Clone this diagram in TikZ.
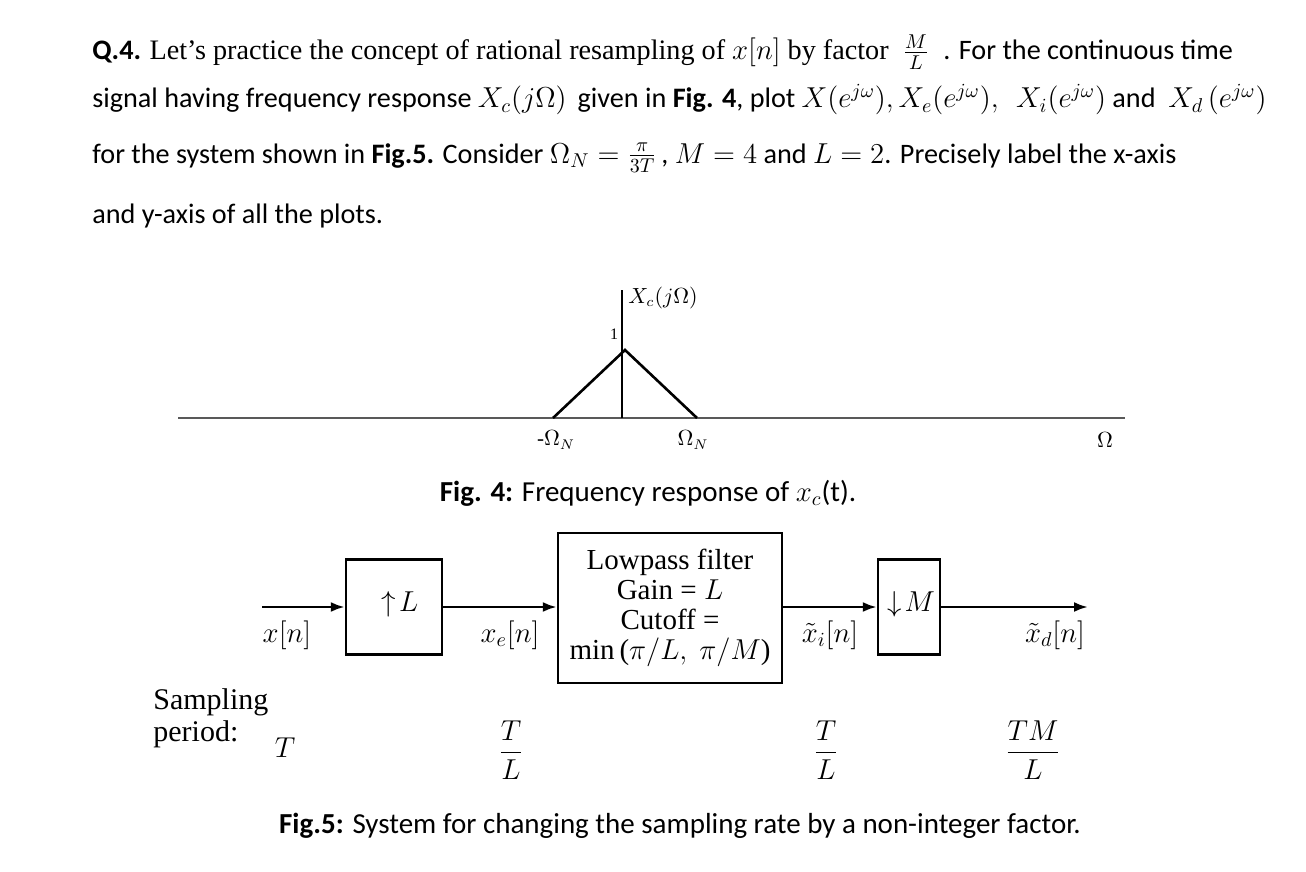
\documentclass[tikz,border=0pt]{standalone}
\usepackage{fontspec}
\usepackage{amsmath}
\setmainfont{Liberation Serif}
\newfontfamily\calib{Carlito}
\newfontfamily\tms{Liberation Serif}
\usetikzlibrary{arrows.meta}
\begin{document}
\begin{tikzpicture}[x=0.5pt,y=-0.5pt,
  hdr/.style={anchor=base west,inner sep=0,font=\fontsize{14.1}{16}\selectfont},
  lbl/.style={inner sep=0,font=\fontsize{12}{14}\selectfont},
  big/.style={inner sep=0,font=\fontsize{14.5}{16}\selectfont},
  blk/.style={draw,line width=1.2pt},
  sig/.style={line width=1.3pt,-{Latex[length=7pt,width=5pt]}}]
\useasboundingbox (0,0) rectangle (1306,872);
% header
\node[hdr] (l1) at (92,60) {\calib\textbf{Q.4.} \tms Let’s practice the concept of rational resampling of $x[n]$ by factor \ $\frac{M}{L}$\ \ \calib . For the continuous time};
\node[hdr] (l2) at (92,108) {\calib signal having frequency response $X_c(j\Omega)$\, given in \textbf{Fig. 4}, plot $X(e^{j\omega}), X_e(e^{j\omega}),\ \ X_i(e^{j\omega})$ and\ \ $X_d\,(e^{j\omega})$};
\node[hdr] (l3) at (92,163) {\calib for the system shown in \textbf{Fig.5.} Consider $\Omega_N=\frac{\pi}{3T}$\,, $M=4$ and $L=2$. Precisely label the x-axis};
\node[hdr] (l4) at (92,223) {\calib and y-axis of all the plots.};
% fig 4
\coordinate (a0) at (178,418); \coordinate (a1) at (1125,418);
\coordinate (v0) at (622,418); \coordinate (v1) at (622,290);
\draw[line width=0.8pt,gray!70!black] (a0) -- (a1);
\draw[line width=0.8pt] (v0) -- (v1);
\coordinate (t0) at (553,418); \coordinate (t1) at (625,350); \coordinate (t2) at (697,418);
\draw[line width=1.3pt] (t0) -- (t1) -- (t2);
\node[lbl,font=\fontsize{8}{9}\selectfont] (one) at (614,334) {1};
\node[lbl,font=\fontsize{10.5}{12}\selectfont] (xc) at (663,298) {$X_c(j\Omega)$};
\node[lbl,font=\fontsize{10.5}{12}\selectfont] (mn) at (556,440) {-$\Omega_N$};
\node[lbl,font=\fontsize{10.5}{12}\selectfont] (pn) at (693,440) {$\Omega_N$};
\node[lbl,font=\fontsize{10.5}{12}\selectfont] (om) at (1105,440) {$\Omega$};
\node[big] (cap4) at (648,493) {\calib\textbf{Fig. 4:} Frequency response of $x_c$(t).};
% fig 5
\node[blk,minimum width=48pt,minimum height=47.5pt,inner sep=0] (up) at (394,607) {};
\node[big] (upt) at (400,604) {$\uparrow\! L$};
\node[blk,minimum width=112pt,minimum height=75pt,inner sep=0,align=center,font=\fontsize{14.5}{15}\selectfont] (lpf) at (670,608) {Lowpass filter\\Gain = $L$\\Cutoff =\\min\,($\pi/L,\ \pi/M$)};
\node[blk,minimum width=31pt,minimum height=47.5pt,inner sep=0] (dn) at (909,607) {};
\node[big] (dnt) at (911,604) {$\downarrow\! M$};
\coordinate (in) at (262,607); \coordinate (out) at (1088,607);
\draw[sig] (in) -- (up.west);
\draw[sig] (up.east) -- (lpf.west|-up.east);
\draw[sig] (lpf.east|-dn.west) -- (dn.west);
\draw[sig] (dn.east) -- (out);
\node[big] (xn) at (287,635) {$x[n]$};
\node[big] (xe) at (510,635) {$x_e[n]$};
\node[big] (xi) at (830,635) {$\tilde{x}_i[n]$};
\node[big] (xd) at (1055,635) {$\tilde{x}_d[n]$};
\node[big,font=\fontsize{15}{16}\selectfont,align=left,anchor=west] (sp) at (153,718) {Sampling\\period:};
\node[big] (T0) at (285,748) {$T$};
\node[big] (T1) at (511,750) {$\dfrac{T}{L}$};
\node[big] (T2) at (826,750) {$\dfrac{T}{L}$};
\node[big] (T3) at (1033,750) {$\dfrac{TM}{L}$};
\node[big] (cap5) at (680,826) {\calib\textbf{Fig.5:} System for changing the sampling rate by a non-integer factor.};
\end{tikzpicture}
\end{document}
